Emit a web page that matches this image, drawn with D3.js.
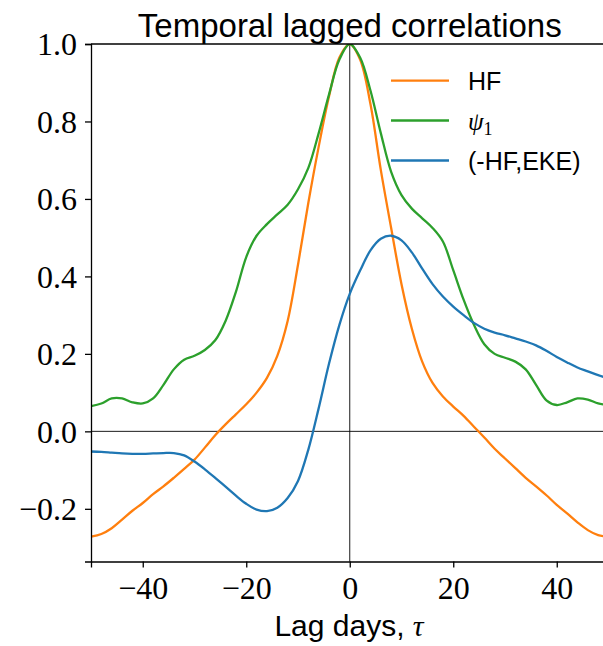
<!DOCTYPE html>
<html>
<head>
<meta charset="utf-8">
<script src="https://cdn.jsdelivr.net/npm/d3@7"></script>
<style>
  body { margin: 0; background: #fff; }
  svg { display: block; }
</style>
</head>
<body>
<div id="chart"></div>
<script>
// lag in days, every 2 days
const lags = d3.range(-50, 51, 2);

const hf = [
  -0.272, -0.265, -0.25, -0.228, -0.205, -0.185, -0.162, -0.142, -0.12, -0.097,
  -0.073, -0.042, -0.01, 0.018, 0.044, 0.07, 0.1, 0.138, 0.195, 0.285,
  0.43, 0.59, 0.735, 0.865, 0.965, 1.0, 0.96, 0.845, 0.675, 0.525,
  0.38, 0.265, 0.18, 0.125, 0.09, 0.064, 0.04, 0.012, -0.016, -0.045,
  -0.07, -0.095, -0.12, -0.142, -0.165, -0.19, -0.212, -0.235, -0.255, -0.268,
  -0.272
];

const psi1 = [
  0.065, 0.072, 0.085, 0.085, 0.075, 0.072, 0.085, 0.12, 0.16, 0.185,
  0.195, 0.21, 0.235, 0.285, 0.36, 0.45, 0.505, 0.535, 0.56, 0.585,
  0.625, 0.68, 0.77, 0.87, 0.96, 1.0, 0.965, 0.88, 0.77, 0.67,
  0.61, 0.575, 0.55, 0.525, 0.49, 0.416, 0.34, 0.275, 0.225, 0.2,
  0.19, 0.18, 0.16, 0.12, 0.08, 0.068, 0.075, 0.085, 0.082, 0.072,
  0.068
];

const hfEke = [
  -0.052, -0.053, -0.055, -0.057, -0.058, -0.058, -0.057, -0.056, -0.056, -0.062,
  -0.078, -0.098, -0.12, -0.143, -0.166, -0.187, -0.202, -0.206, -0.197, -0.172,
  -0.128, -0.047, 0.06, 0.175, 0.275, 0.355, 0.415, 0.467, 0.497, 0.505,
  0.493, 0.462, 0.42, 0.38, 0.348, 0.322, 0.3, 0.28, 0.265, 0.255,
  0.248, 0.24, 0.232, 0.222, 0.208, 0.192, 0.178, 0.165, 0.155, 0.145,
  0.137
];

const seriesNames = ["HF", "psi1", "(-HF,EKE)"];
const seriesColors = ["#ff7f0e", "#2ca02c", "#1f77b4"];
const xTicks = [-40, -20, 0, 20, 40];
const yTicks = [-0.2, 0.0, 0.2, 0.4, 0.6, 0.8, 1.0];

const width = 603, height = 646;
const margin = { top: 44, right: -5.5, bottom: 84.5, left: 91 };

const svg = d3.select("#chart").append("svg")
  .attr("width", width)
  .attr("height", height);

const x = d3.scaleLinear().domain([-50, 50]).range([margin.left, width - margin.right]);
const y = d3.scaleLinear().domain([-0.336, 1.0]).range([height - margin.bottom, margin.top]);

const serif = "'Liberation Serif', 'DejaVu Serif', serif";
const sans = "'Liberation Sans', 'DejaVu Sans', sans-serif";

svg.append("clipPath").attr("id", "plotclip")
  .append("rect")
  .attr("x", x(-50)).attr("y", y(1.0))
  .attr("width", x(50) - x(-50)).attr("height", y(-0.336) - y(1.0));

// reference lines at 0
svg.append("line")
  .attr("x1", x(-50)).attr("x2", x(50))
  .attr("y1", y(0)).attr("y2", y(0))
  .attr("stroke", "black").attr("stroke-width", 0.9);
svg.append("line")
  .attr("x1", x(0)).attr("x2", x(0))
  .attr("y1", y(1.0)).attr("y2", y(-0.336))
  .attr("stroke", "black").attr("stroke-width", 0.9);

const line = d3.line()
  .x(d => x(d[0]))
  .y(d => y(d[1]))
  .curve(d3.curveCatmullRom.alpha(0.5));

const allSeries = [hf, psi1, hfEke];
const g = svg.append("g").attr("clip-path", "url(#plotclip)");
allSeries.forEach((vals, i) => {
  g.append("path")
    .datum(lags.map((l, j) => [l, vals[j]]))
    .attr("fill", "none")
    .attr("stroke", seriesColors[i])
    .attr("stroke-width", 2.3)
    .attr("stroke-linejoin", "round")
    .attr("d", line);
});

// axes
const fmt = d => (d < 0 ? "\u2212" : "") + Math.abs(d).toFixed(1);
const yAxis = svg.append("g")
  .attr("transform", `translate(${x(-50)},0)`)
  .call(d3.axisLeft(y).tickValues(yTicks).tickFormat(fmt).tickSize(6).tickPadding(8));
const xAxis = svg.append("g")
  .attr("transform", `translate(0,${y(-0.336)})`)
  .call(d3.axisBottom(x).tickValues(xTicks)
    .tickFormat(d => (d < 0 ? "\u2212" : "") + Math.abs(d)).tickSize(6).tickPadding(8));

[xAxis, yAxis].forEach(ax => {
  ax.select(".domain").attr("stroke-width", 1.3);
  ax.selectAll(".tick line").attr("stroke-width", 1.3);
  ax.selectAll(".tick text")
    .attr("font-family", serif)
    .attr("font-size", 32)
    .attr("fill", "black");
});
yAxis.selectAll(".tick text").attr("dy", "0.34em");
xAxis.selectAll(".tick text").attr("dy", "0.74em");

// top spine
svg.append("line")
  .attr("x1", x(-50)).attr("x2", x(50))
  .attr("y1", y(1.0)).attr("y2", y(1.0))
  .attr("stroke", "black").attr("stroke-width", 1.3);

// title
const title = svg.append("text")
  .attr("x", x(0)).attr("y", 37)
  .attr("text-anchor", "middle")
  .attr("font-family", sans)
  .attr("font-size", 34)
  .text("Temporal lagged correlations");
const tw = title.node().getComputedTextLength();
title.attr("font-size", 34 * 424 / tw);

// x label
const xl = svg.append("text")
  .attr("x", 349).attr("y", 636)
  .attr("text-anchor", "middle")
  .attr("font-family", sans)
  .attr("font-size", 30);
xl.append("tspan").text("Lag days, ");
xl.append("tspan").attr("font-family", serif).attr("font-style", "italic").text("\u03c4");

// legend
const legendY = [80.6, 120.5, 160.5];
const legend = svg.append("g");
seriesNames.forEach((name, i) => {
  legend.append("line")
    .attr("x1", 391).attr("x2", 449)
    .attr("y1", legendY[i]).attr("y2", legendY[i])
    .attr("stroke", seriesColors[i]).attr("stroke-width", 2.3);
  const t = legend.append("text")
    .attr("x", 468).attr("y", legendY[i])
    .attr("dy", "0.36em")
    .attr("font-family", sans)
    .attr("font-size", 25);
  if (name === "psi1") {
    t.append("tspan").attr("font-family", serif).attr("font-style", "italic").text("\u03c8");
    t.append("tspan").attr("font-family", serif).attr("font-size", 18).attr("dy", "0.3em").text("1");
  } else {
    t.text(name);
  }
});
</script>
</body>
</html>
